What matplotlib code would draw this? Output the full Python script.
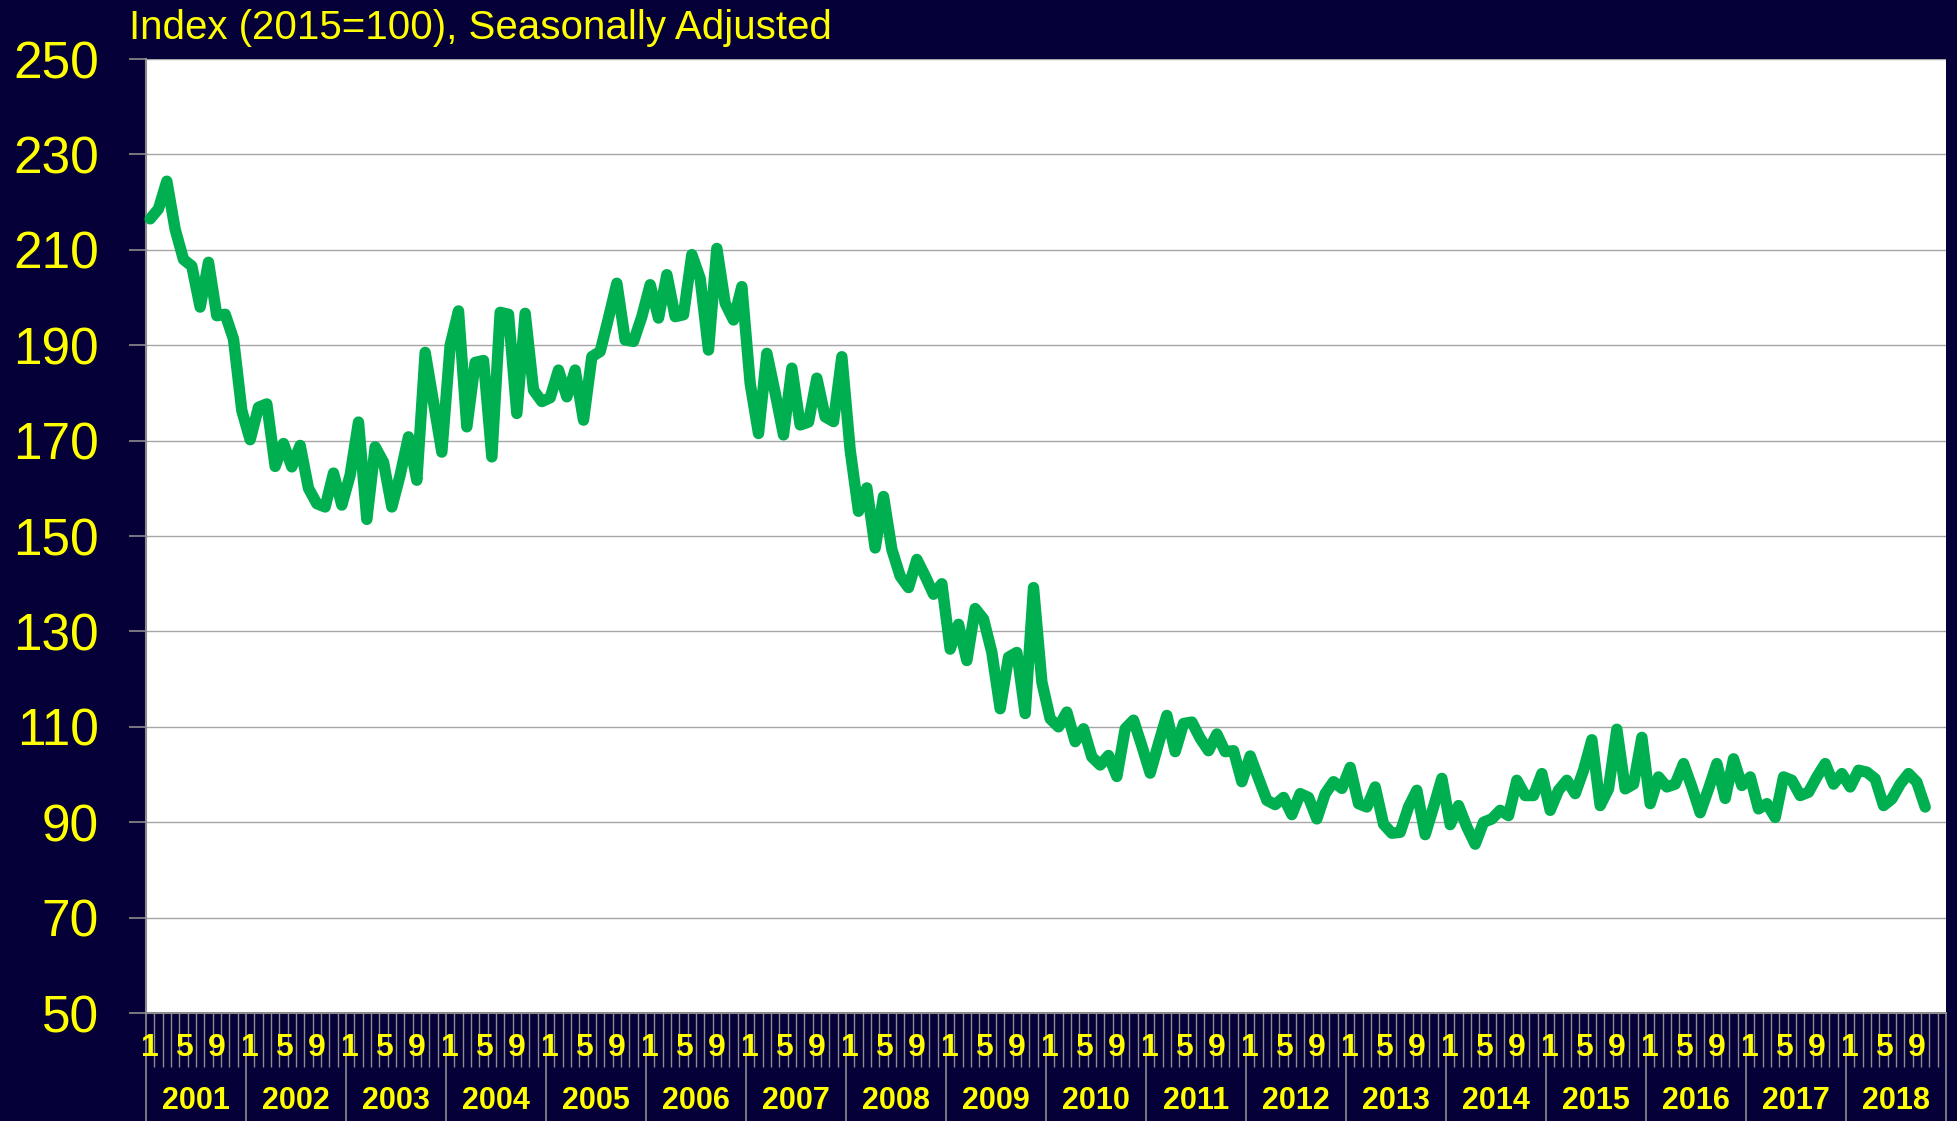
import numpy as np
import matplotlib
matplotlib.use("Agg")
from matplotlib import pyplot as plt
from matplotlib.transforms import blended_transform_factory

plt.rcParams['font.family'] = ['Liberation Sans', 'DejaVu Sans']

# monthly index, Jan 2001 .. Oct 2018
index_values = [
    216.5, 218.6, 224.4, 214.3, 208.0, 206.6, 198.0, 207.4, 196.2, 196.5, 191.3, 176.3,  # 2001
    170.2, 177.0, 177.7, 164.6, 169.4, 164.5, 169.0, 160.0, 156.8, 156.1, 163.2, 156.5,  # 2002
    162.8, 173.9, 153.5, 168.7, 165.5, 156.1, 162.8, 170.8, 161.7, 188.5, 178.0, 167.6,  # 2003
    190.0, 197.2, 172.9, 186.4, 186.8, 166.6, 196.9, 196.5, 175.7, 196.7, 180.6, 178.2,  # 2004
    179.0, 184.8, 179.2, 184.8, 174.3, 187.6, 188.7, 195.7, 203.0, 191.1, 190.8, 196.0,  # 2005
    202.7, 195.7, 204.8, 196.0, 196.4, 209.0, 204.0, 189.0, 210.3, 198.8, 195.3, 202.3,  # 2006
    182.0, 171.5, 188.3, 180.0, 171.2, 185.2, 173.3, 173.9, 183.1, 175.0, 174.0, 187.6,  # 2007
    168.0, 155.2, 160.1, 147.5, 158.3, 147.2, 141.6, 139.2, 145.1, 141.6, 137.8, 140.0,  # 2008
    126.3, 131.5, 123.9, 134.8, 132.6, 125.6, 113.8, 124.6, 125.6, 112.8, 139.2, 119.4,  # 2009
    111.7, 110.0, 113.1, 106.9, 109.6, 103.7, 102.0, 104.0, 99.6, 109.6, 111.4, 106.0,   # 2010
    100.3, 106.5, 112.4, 104.8, 110.7, 111.0, 107.6, 105.0, 108.5, 104.8, 105.0, 98.5,   # 2011
    103.9, 99.2, 94.6, 93.7, 95.2, 91.6, 96.0, 95.2, 90.7, 96.0, 98.5, 97.1,             # 2012
    101.5, 93.9, 93.2, 97.4, 89.6, 87.7, 87.9, 93.2, 96.7, 87.4, 93.2, 99.2,             # 2013
    89.5, 93.5, 89.0, 85.4, 90.0, 90.7, 92.5, 91.4, 98.8, 95.6, 95.6, 100.2,             # 2014
    92.5, 96.7, 98.8, 96.0, 100.9, 107.3, 93.5, 97.0, 109.5, 97.0, 98.0, 107.8,          # 2015
    93.9, 99.5, 97.4, 98.0, 102.3, 97.4, 92.0, 97.0, 102.3, 95.0, 103.3, 97.7,           # 2016
    99.5, 92.8, 93.9, 91.0, 99.5, 98.8, 95.6, 96.3, 99.5, 102.3, 98.0, 100.2,            # 2017
    97.4, 100.9, 100.5, 99.1, 93.5, 94.9, 98.0, 100.2, 98.4, 93.2,                       # 2018
]
years = list(range(2001, 2019))
month_labels = ['1', '5', '9']
month_label_pos = [0, 4, 8]
y_ticks = [50, 70, 90, 110, 130, 150, 170, 190, 210, 230, 250]
title = "Index (2015=100), Seasonally Adjusted"

bg = '#050038'
yellow = '#FFFF00'
green = '#00B050'
gray = '#8C8C8C'

fig = plt.figure(figsize=(19.57, 11.21), dpi=100, facecolor=bg)
ax = fig.add_axes([0.0746, 0.0963, 0.9198, 0.8510])
ax.set_facecolor('white')

x = np.arange(len(index_values)) + 0.5
ax.plot(x, index_values, color=green, lw=8.2, solid_joinstyle='round',
        solid_capstyle='round', zorder=3, clip_on=False)

n_months = len(years) * 12
ax.set_xlim(0, n_months)
ax.set_ylim(50, 250)

ax.set_yticks(y_ticks)
ax.set_yticklabels([str(v) for v in y_ticks])
ax.tick_params(axis='y', colors=gray, length=12, width=1.2, pad=22,
               labelcolor=yellow, labelsize=37)
ax.yaxis.grid(True, color='#A6A6A6', lw=1.0)
ax.set_axisbelow(True)

# x axis: month boundaries as minor ticks, year boundaries as major ticks
ax.set_xticks(np.arange(0, n_months + 1, 12))
ax.set_xticks(np.arange(0, n_months + 1), minor=True)
ax.tick_params(axis='x', which='major', direction='out', length=78, width=1.2,
               colors=gray, labelbottom=False)
ax.tick_params(axis='x', which='minor', direction='out', length=39, width=1.0,
               colors=gray)

for side in ['top', 'right']:
    ax.spines[side].set_visible(False)
for side in ['left', 'bottom']:
    ax.spines[side].set_color(gray)
    ax.spines[side].set_linewidth(1.5)

trans = blended_transform_factory(ax.transData, ax.transAxes)
for k, yr in enumerate(years):
    for lab, m in zip(month_labels, month_label_pos):
        ax.text(k * 12 + m + 0.5, -0.037, lab, transform=trans, ha='center',
                va='center', color=yellow, fontsize=23, fontweight='bold')
    ax.text(k * 12 + 6, -0.0925, str(yr), transform=trans, ha='center',
            va='center', color=yellow, fontsize=22, fontweight='bold')

fig.text(129 / 1957, 1 - 28 / 1121, title, ha='left', va='center',
         color=yellow, fontsize=29)

fig.savefig('out.png', dpi=100, facecolor=bg)
